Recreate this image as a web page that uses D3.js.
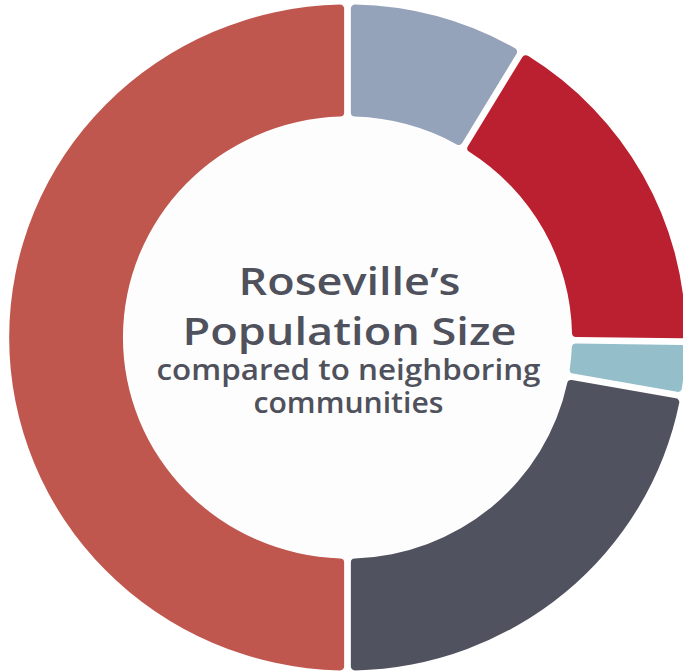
<!DOCTYPE html>
<html>
<head>
<meta charset="utf-8">
<script src="https://cdn.jsdelivr.net/npm/d3@7"></script>
<style>
  html, body { margin: 0; padding: 0; background: #fff; }
  #chart { width: 683px; height: 672px; }
</style>
</head>
<body>
<div id="chart"></div>
<script>
const communities = ["Community A", "Community B", "Community C", "Community D", "Roseville area"];
const shares = [8.6, 16.6, 2.6, 22.2, 50.0];
const colors = ["#94a3ba", "#bb2030", "#95becb", "#50525f", "#c0574f"];
const titleLines = ["Roseville\u2019s", "Population Size"];
const subtitleLines = ["compared to neighboring", "communities"];

(function () {
  const width = 683;
  const height = 672;
  const cx = 347.5;
  const cy = 337.5;
  const outerR = 333;
  const innerR = 221;
  const stretchX = 1.016; // the source ring is a touch wider than tall

  const svg = d3.select("#chart")
    .append("svg")
    .attr("width", width)
    .attr("height", height);

  const ring = svg.append("g")
    .attr("transform", `translate(${cx}, ${cy}) scale(${stretchX}, 1)`);

  const data = communities.map((name, i) => ({ name, value: shares[i], color: colors[i] }));

  // no padding in the pie itself so the slice borders stay where the values put them
  const pie = d3.pie()
    .value(d => d.value)
    .sort(null);

  const arc = d3.arc()
    .innerRadius(innerR)
    .outerRadius(outerR)
    .padAngle(0.0165)
    .cornerRadius(4);

  ring.selectAll("path.slice")
    .data(pie(data))
    .join("path")
    .attr("class", "slice")
    .attr("d", arc)
    .attr("fill", d => d.data.color);

  ring.append("circle")
    .attr("r", innerR - 1)
    .attr("fill", "#fdfdfd");

  // centre label: one text block, four lines
  const lines = [
    { text: titleLines[0], y: -42.5, x: 2, size: 38, w: 222 },
    { text: titleLines[1], y: 7.5, x: 2, size: 38, w: 334 },
    { text: subtitleLines[0], y: 42.5, x: 1, size: 29, w: 384 },
    { text: subtitleLines[1], y: 75.5, x: 1, size: 29, w: 190 }
  ];

  const label = svg.append("text")
    .attr("transform", `translate(${cx}, ${cy})`)
    .attr("fill", "#4f515c")
    .attr("text-anchor", "middle")
    .style("font-family", "'Open Sans', sans-serif")
    .style("font-weight", 600);

  label.selectAll("tspan")
    .data(lines)
    .join("tspan")
    .attr("x", d => d.x)
    .attr("y", d => d.y)
    .attr("textLength", d => d.w)
    .attr("lengthAdjust", "spacingAndGlyphs")
    .style("font-size", d => d.size + "px")
    .text(d => d.text);
})();
</script>
</body>
</html>
